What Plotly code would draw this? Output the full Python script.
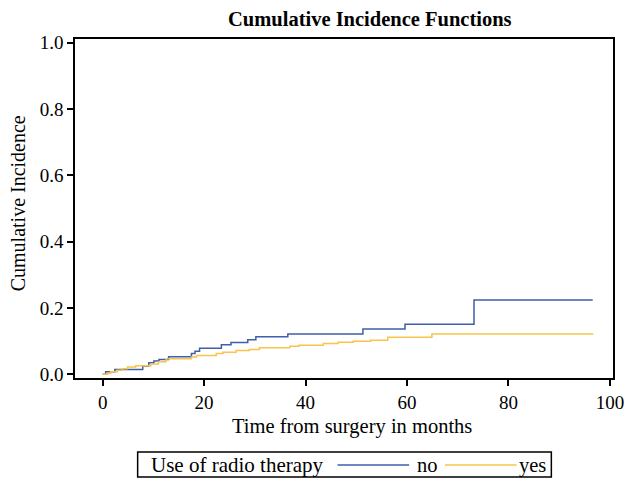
import plotly.graph_objects as go

# ---- data ----
time_no = [0, 0.6, 2.4, 7.9, 9.1, 10.1, 11.1, 13.0, 17.5, 18.2, 19.1, 23.4, 25.3, 28.6,
           30.2, 36.5, 51.3, 59.6, 73.2, 96.6]
cif_no = [0.0, 0.008, 0.015, 0.025, 0.035, 0.040, 0.045, 0.053, 0.063, 0.070, 0.079, 0.089,
          0.096, 0.104, 0.113, 0.122, 0.137, 0.151, 0.224, 0.224]

time_yes = [0, 1.0, 1.6, 2.9, 3.9, 4.9, 6.5, 9.5, 11.0, 12.5, 17.5, 18.5, 22.4, 23.7, 26.3,
            28.9, 30.9, 36.9, 38.7, 43.5, 46.4, 49.4, 52.8, 56.2, 64.9, 96.7]
cif_yes = [0.0, 0.003, 0.008, 0.012, 0.017, 0.022, 0.026, 0.031, 0.038, 0.047, 0.052, 0.057,
           0.063, 0.067, 0.072, 0.075, 0.080, 0.085, 0.088, 0.093, 0.097, 0.100, 0.103, 0.112,
           0.122, 0.122]

group_labels = ["no", "yes"]
legend_title = "Use of radio therapy"
x_ticks = [0, 20, 40, 60, 80, 100]
y_ticks = [0.0, 0.2, 0.4, 0.6, 0.8, 1.0]

BLUE = "#3F5FAC"
YELLOW = "#F8C44C"
FONT = "Liberation Serif"

fig = go.Figure()
fig.add_trace(go.Scatter(x=time_no, y=cif_no, mode="lines", line_shape="hv",
                         line=dict(color=BLUE, width=1.5), name=group_labels[0],
                         showlegend=False))
fig.add_trace(go.Scatter(x=time_yes, y=cif_yes, mode="lines", line_shape="hv",
                         line=dict(color=YELLOW, width=1.5), name=group_labels[1],
                         showlegend=False))

W, H = 630, 479
K = 1 / 0.985  # horizontal compensation
# plot area in page pixels
PL, PR, PT, PB = 74 * K, 615 * K, 39, 378
L, R, T, B = PL, W - PR, PT, H - PB
pw, ph = W - L - R, H - T - B


def px(xp):
    return (xp * K - PL) / pw


def py(yp):
    return (PB - yp) / ph


axis_common = dict(showline=True, mirror=True, linecolor="black", linewidth=1.5,
                   ticks="outside", ticklen=6, tickcolor="black", tickwidth=1.5,
                   showgrid=False, zeroline=False, ticklabeloverflow="allow",
                   tickfont=dict(family=FONT, size=19, color="black"))

fig.update_layout(
    width=W, height=H,
    margin=dict(l=L, r=R, t=T, b=B),
    paper_bgcolor="white", plot_bgcolor="white",
    font=dict(family=FONT, color="black"),
    xaxis=dict(range=[-5.45, 100.6], tickvals=x_ticks, **axis_common),
    yaxis=dict(range=[-0.011, 1.011], tickvals=y_ticks, tickformat=".1f", **axis_common),
    showlegend=False,
)

ann = [
    dict(text="<b>Cumulative Incidence Functions</b>", x=px(371), y=py(19), size=20.5),
    dict(text="Time from surgery in months", x=px(353), y=py(426), size=20.5),
    dict(text="Cumulative Incidence", x=px(17), y=py(203), textangle=-90, size=20),
    dict(text=legend_title, x=px(148), y=py(465), xanchor="left", size=21),
    dict(text=group_labels[0], x=px(428), y=py(465), size=20.5),
    dict(text=group_labels[1], x=px(534), y=py(465), size=20.5),
]
for a in ann:
    a.setdefault("xanchor", "center")
    size = a.pop("size")
    fig.add_annotation(xref="paper", yref="paper", yanchor="middle", showarrow=False,
                       font=dict(family=FONT, color="black", size=size), **a)

# legend box and swatches
fig.add_shape(type="rect", xref="paper", yref="paper", x0=px(137), x1=px(553),
              y0=py(477), y1=py(452), line=dict(color="black", width=1.5))
fig.add_shape(type="line", xref="paper", yref="paper", x0=px(338), x1=px(410),
              y0=py(465), y1=py(465), line=dict(color=BLUE, width=1.5))
fig.add_shape(type="line", xref="paper", yref="paper", x0=px(446), x1=px(518),
              y0=py(465), y1=py(465), line=dict(color=YELLOW, width=1.5))

fig.write_html("out.html",
               config={"displayModeBar": False},
               post_script="document.body.style.margin='0';"
                           "document.documentElement.style.overflow='hidden';"
                           "document.body.style.overflow='hidden';")
